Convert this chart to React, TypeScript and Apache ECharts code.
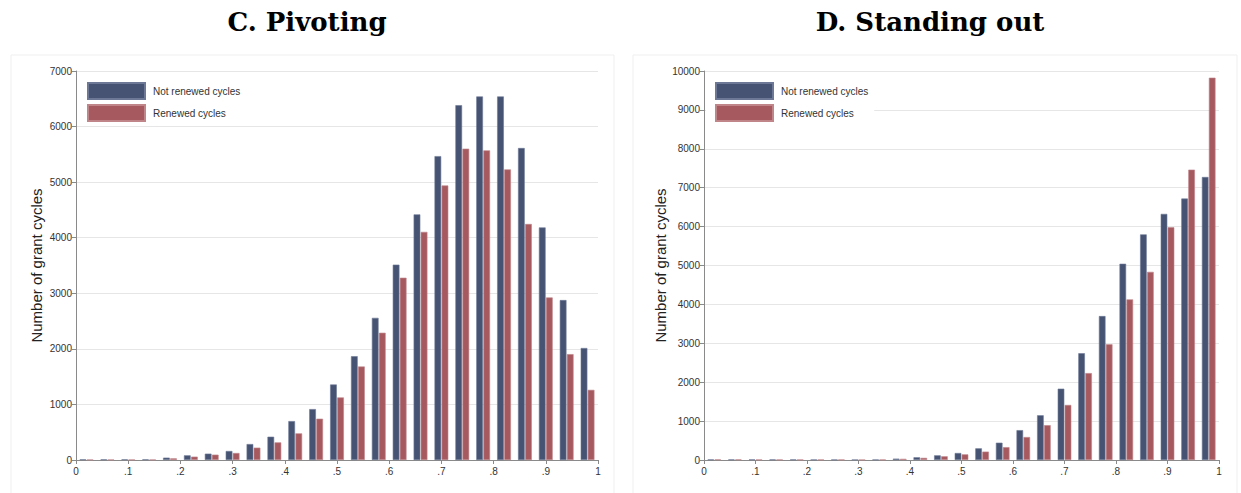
import React, { useEffect, useRef } from "react";
import * as echarts from "echarts";

// Bins of width 0.04 from 0 to 1
const binStarts = [
  "0", ".04", ".08", ".12", ".16", ".2", ".24", ".28", ".32", ".36", ".4", ".44", ".48",
  ".52", ".56", ".6", ".64", ".68", ".72", ".76", ".8", ".84", ".88", ".92", ".96",
];

const seriesNames = ["Not renewed cycles", "Renewed cycles"];

// Panel C: Pivoting
const pivotNotRenewed = [
  12, 12, 12, 12, 42, 84, 114, 162, 287, 419, 700, 916, 1359, 1868, 2558, 3515, 4420,
  5468, 6385, 6542, 6542, 5614, 4185, 2878, 2015,
];
const pivotRenewed = [
  6, 6, 6, 6, 30, 60, 96, 126, 222, 317, 479, 743, 1126, 1683, 2290, 3280, 4105, 4940,
  5602, 5572, 5229, 4247, 2925, 1905, 1262,
];

// Panel D: Standing out
const standNotRenewed = [
  15, 15, 15, 15, 15, 10, 10, 8, 10, 35, 70, 120, 180, 300, 445, 767, 1150, 1833, 2745,
  3700, 5045, 5800, 6326, 6721, 7275,
];
const standRenewed = [
  15, 15, 10, 10, 10, 10, 10, 5, 10, 30, 55, 95, 145, 215, 330, 590, 895, 1415, 2234,
  2975, 4129, 4837, 5983, 7464, 9828,
];

const panelTitles = ["C. Pivoting", "D. Standing out"];
const yMax = [7000, 10000];
const yTitle = "Number of grant cycles";

const BLUE = "#475373";
const RED = "#a65a60";
const SANS = "Liberation Sans, Arial, sans-serif";

const fmtX = (v: number) => {
  if (Math.abs(v) < 1e-9) return "0";
  if (Math.abs(v - 1) < 1e-9) return "1";
  return "." + Math.round(v * 10);
};
const fmtY = (v: number) => String(Math.round(v));

export default function App() {
  const ref = useRef<HTMLDivElement>(null);

  useEffect(() => {
    document.body.style.margin = "0";
    const chart = echarts.init(ref.current!, null, { renderer: "svg" });

    const grids = [
      { left: 76, right: 643, top: 71, bottom: 33 },
      { left: 704, right: 22, top: 71, bottom: 33 },
    ];

    const xAxes: any[] = [];
    const yAxes: any[] = [];
    [0, 1].forEach((g) => {
      xAxes.push({
        type: "category",
        gridIndex: g,
        data: binStarts,
        show: false,
        boundaryGap: true,
      });
      xAxes.push({
        type: "value",
        gridIndex: g,
        min: 0,
        max: 1,
        interval: 0.1,
        position: "bottom",
        axisLine: { show: true, lineStyle: { color: "#8a8a8a", width: 1 } },
        axisTick: { show: true, length: 4, lineStyle: { color: "#8a8a8a" } },
        splitLine: { show: false },
        axisLabel: {
          formatter: fmtX,
          fontSize: 10,
          color: "#333",
          fontFamily: SANS,
          margin: 6,
        },
      });
      yAxes.push({
        type: "value",
        gridIndex: g,
        min: 0,
        max: yMax[g],
        interval: 1000,
        name: yTitle,
        nameLocation: "middle",
        nameGap: 32,
        nameTextStyle: { fontSize: 15, color: "#222", fontFamily: SANS },
        axisLine: { show: true, lineStyle: { color: "#8a8a8a", width: 1 } },
        axisTick: { show: true, length: 4, lineStyle: { color: "#8a8a8a" } },
        splitLine: { show: true, lineStyle: { color: "#e6e6e6", width: 1 } },
        axisLabel: {
          formatter: fmtY,
          fontSize: 10,
          color: "#333",
          fontFamily: SANS,
          margin: 4,
        },
      });
    });

    const barCommon = {
      type: "bar",
      barGap: "6%",
      barCategoryGap: "34%",
    };
    const mk = (name: string, g: number, data: number[], color: string) => ({
      ...barCommon,
      name,
      xAxisIndex: g * 2,
      yAxisIndex: g,
      data,
      itemStyle: {
        color,
        borderColor: color === BLUE ? "#6c7896" : "#c08589",
        borderWidth: 0.6,
      },
    });

    const legendCommon = {
      data: seriesNames,
      orient: "vertical",
      top: 76,
      icon: "rect",
      itemWidth: 57,
      itemHeight: 16,
      itemGap: 4,
      backgroundColor: "#ffffff",
      padding: [6, 6, 4, 9],
      selectedMode: false,
      textStyle: { fontSize: 10, color: "#333", fontFamily: SANS, padding: [0, 0, 0, 3] },
    };

    chart.setOption({
      animation: false,
      backgroundColor: "#ffffff",
      grid: grids,
      xAxis: xAxes,
      yAxis: yAxes,
      legend: [
        { ...legendCommon, left: 78 },
        { ...legendCommon, left: 706 },
      ],
      series: [
        mk(seriesNames[0], 0, pivotNotRenewed, BLUE),
        mk(seriesNames[1], 0, pivotRenewed, RED),
        mk(seriesNames[0], 1, standNotRenewed, BLUE),
        mk(seriesNames[1], 1, standRenewed, RED),
      ],
      graphic: [
        {
          type: "rect",
          z: -10,
          shape: { x: 11, y: 55, width: 603, height: 450 },
          style: { fill: "none", stroke: "#efefef", lineWidth: 1 },
        },
        {
          type: "rect",
          z: -10,
          shape: { x: 633, y: 55, width: 604, height: 450 },
          style: { fill: "none", stroke: "#efefef", lineWidth: 1 },
        },
        {
          type: "text",
          x: 307,
          y: 22,
          style: {
            text: panelTitles[0],
            textAlign: "center",
            textVerticalAlign: "middle",
            font: "bold 26px 'DejaVu Serif', serif",
            fill: "#000",
          },
        },
        {
          type: "text",
          x: 930,
          y: 22,
          style: {
            text: panelTitles[1],
            textAlign: "center",
            textVerticalAlign: "middle",
            font: "bold 26px 'DejaVu Serif', serif",
            fill: "#000",
          },
        },
      ],
    });

    return () => chart.dispose();
  }, []);

  return <div ref={ref} style={{ width: 1241, height: 493 }} />;
}
